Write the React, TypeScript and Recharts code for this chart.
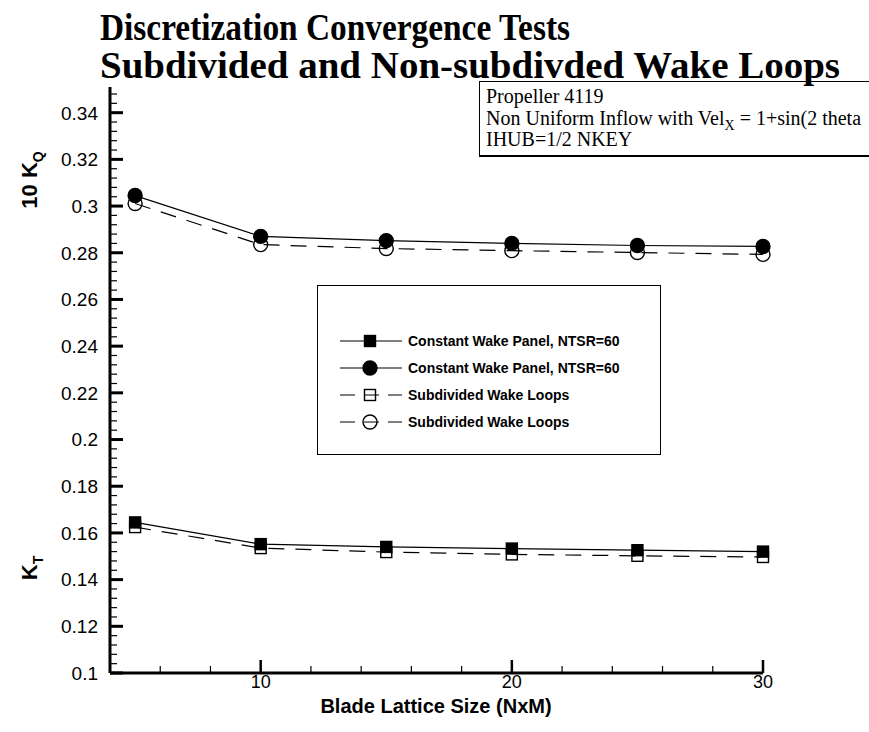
import React from "react";
import { LineChart, Line, XAxis, YAxis, Legend } from "recharts";

// blade lattice size (NxM)
const latticeSize = [5, 10, 15, 20, 25, 30];

// K_T
const ktConstant = [0.1645, 0.1552, 0.154, 0.1533, 0.1526, 0.152];
const ktSubdivided = [0.1625, 0.1535, 0.1518, 0.1508, 0.1502, 0.1497];

// 10 K_Q
const kqConstant = [0.3045, 0.287, 0.2852, 0.284, 0.2831, 0.2827];
const kqSubdivided = [0.3011, 0.2835, 0.2818, 0.2809, 0.2801, 0.2793];

const xMajorTicks = [10, 20, 30];
const xMinorTicks = [6, 8, 12, 14, 16, 18, 22, 24, 26, 28];
const yMajorTicks = [0.1, 0.12, 0.14, 0.16, 0.18, 0.2, 0.22, 0.24, 0.26, 0.28, 0.3, 0.32, 0.34];
// minor ticks every 0.004 up to the top of the axis
const yMinorTicks = Array.from({ length: 63 }, (_, i) => Number((0.1 + i * 0.004).toFixed(3)));

const legendNames = {
  ktC: "Constant Wake Panel, NTSR=60",
  kqC: "Constant Wake Panel, NTSR=60",
  ktS: "Subdivided Wake Loops",
  kqS: "Subdivided Wake Loops",
};
const legendOrder = ["ktC", "kqC", "ktS", "kqS"];

const rows = latticeSize.map((n, i) => ({
  n,
  ktC: ktConstant[i],
  ktS: ktSubdivided[i],
  kqC: kqConstant[i],
  kqS: kqSubdivided[i],
}));

const SANS = "'Liberation Sans', Arial, Helvetica, sans-serif";
const SERIF = "'Liberation Serif', 'Times New Roman', serif";
const DASH = "16 11";

const xTicks = [...xMinorTicks, ...xMajorTicks].sort((a, b) => a - b);
const yTicks = yMinorTicks;
const isYMajor = (v: number) => yMajorTicks.some((m) => Math.abs(m - v) < 1e-6);

function XTick(props: any) {
  const { x, y, payload } = props;
  const major = xMajorTicks.includes(payload.value);
  return (
    <g>
      <line x1={x} x2={x} y1={y} y2={y - (major ? 13 : 7)} stroke="#000" strokeWidth={major ? 2.5 : 1.2} />
      {major && (
        <text x={x} y={y + 15} textAnchor="middle" fontFamily={SANS} fontSize={18} fill="#000">
          {payload.value}
        </text>
      )}
    </g>
  );
}

function YTick(props: any) {
  const { x, y, payload } = props;
  const major = isYMajor(payload.value);
  return (
    <g>
      <line x1={x} x2={x + (major ? 13 : 7)} y1={y} y2={y} stroke="#000" strokeWidth={major ? 3 : 1.2} />
      {major && (
        <text x={x - 12} y={y} dy="0.36em" textAnchor="end" fontFamily={SANS} fontSize={19} fill="#000">
          {Number(payload.value.toFixed(2))}
        </text>
      )}
    </g>
  );
}

function marker(kind: string, filled: boolean, cx: number, cy: number, key?: any) {
  if (kind === "circle") {
    return (
      <circle key={key} cx={cx} cy={cy} r={7} fill={filled ? "#000" : "none"} stroke="#000" strokeWidth={1.4} />
    );
  }
  return (
    <rect key={key} x={cx - 5.5} y={cy - 5.5} width={11} height={11} fill={filled ? "#000" : "none"} stroke="#000" strokeWidth={1.4} />
  );
}

const seriesStyle: Record<string, { kind: string; filled: boolean; dashed: boolean }> = {
  ktC: { kind: "square", filled: true, dashed: false },
  kqC: { kind: "circle", filled: true, dashed: false },
  ktS: { kind: "square", filled: false, dashed: true },
  kqS: { kind: "circle", filled: false, dashed: true },
};

function LegendBox(props: any) {
  const payload = props.payload || [];
  return (
    <div
      style={{
        width: "100%",
        height: "100%",
        boxSizing: "border-box",
        border: "1px solid #000",
        background: "#fff",
        paddingTop: 41,
        paddingLeft: 22,
      }}
    >
      {legendOrder.map((key) => {
        const item = payload.find((p: any) => p.dataKey === key);
        const s = seriesStyle[key];
        return (
          <div key={key} style={{ display: "flex", alignItems: "center", height: 27 }}>
            <svg width={64} height={20} style={{ display: "block" }}>
              <line x1={0} x2={62} y1={10} y2={10} stroke="#000" strokeWidth={1.2} strokeDasharray={s.dashed ? "15 9" : undefined} />
              {marker(s.kind, s.filled, 30, 10)}
            </svg>
            <span style={{ marginLeft: 4, fontFamily: SANS, fontWeight: "bold", fontSize: 14, color: "#000" }}>
              {item ? item.value : legendNames[key as keyof typeof legendNames]}
            </span>
          </div>
        );
      })}
    </div>
  );
}

function series(key: string) {
  const s = seriesStyle[key];
  return (
    <Line
      key={key}
      dataKey={key}
      name={legendNames[key as keyof typeof legendNames]}
      type="linear"
      stroke="#000"
      strokeWidth={1.2}
      strokeDasharray={s.dashed ? DASH : undefined}
      dot={(p: any) => marker(s.kind, s.filled, p.cx, p.cy, `${key}-${p.index}`)}
      activeDot={false}
      isAnimationActive={false}
    />
  );
}

export default function App() {
  return (
    <div style={{ position: "absolute", left: 0, top: 0, width: 869, height: 732, overflow: "hidden", background: "#fff" }}>
      <LineChart width={869} height={732} data={rows} margin={{ top: 87, right: 106, bottom: 0, left: 0 }}>
        <XAxis
          dataKey="n"
          type="number"
          domain={[4, 30]}
          ticks={xTicks}
          interval={0}
          height={59}
          tickSize={0}
          tickMargin={0}
          tickLine={false}
          axisLine={{ stroke: "#000", strokeWidth: 3 }}
          tick={XTick}
        />
        <YAxis
          type="number"
          domain={[0.1, 0.351]}
          ticks={yTicks}
          interval={0}
          width={110}
          tickSize={0}
          tickMargin={0}
          tickLine={false}
          axisLine={{ stroke: "#000", strokeWidth: 3 }}
          tick={YTick}
        />
        <Legend
          layout="horizontal"
          verticalAlign="middle"
          align="center"
          content={LegendBox}
          wrapperStyle={{ position: "absolute", left: 317, top: 285, width: 344, height: 170 }}
        />
        {series("ktS")}
        {series("kqS")}
        {series("ktC")}
        {series("kqC")}
      </LineChart>

      <svg width={869} height={732} style={{ position: "absolute", left: 0, top: 0, pointerEvents: "none" }}>
        <text x={100} y={40} fontFamily={SERIF} fontWeight="bold" fontSize={38} fill="#000" textLength={470} lengthAdjust="spacingAndGlyphs">
          Discretization Convergence Tests
        </text>
        <text x={100} y={78} fontFamily={SERIF} fontWeight="bold" fontSize={38} fill="#000" textLength={740} lengthAdjust="spacingAndGlyphs">
          Subdivided and Non-subdivded Wake Loops
        </text>
        <text x={436} y={713} textAnchor="middle" fontFamily={SANS} fontWeight="bold" fontSize={20} fill="#000">
          Blade Lattice Size (NxM)
        </text>
        <text transform="translate(37,180) rotate(-90)" textAnchor="middle" fontFamily={SANS} fontWeight="bold" fontSize={22} fill="#000">
          10 K<tspan fontSize={14} dy={6}>Q</tspan>
        </text>
        <text transform="translate(37,568) rotate(-90)" textAnchor="middle" fontFamily={SANS} fontWeight="bold" fontSize={22} fill="#000">
          K<tspan fontSize={14} dy={6}>T</tspan>
        </text>
      </svg>

      <div
        style={{
          position: "absolute",
          left: 479,
          top: 81,
          width: 430,
          height: 76,
          boxSizing: "border-box",
          borderTop: "1px solid #000",
          borderLeft: "1px solid #000",
          borderBottom: "2px solid #000",
          padding: "4px 0 0 6px",
          fontFamily: SERIF,
          fontSize: 20,
          lineHeight: "21.5px",
          color: "#000",
          whiteSpace: "nowrap",
        }}
      >
        <div>Propeller 4119</div>
        <div>
          Non Uniform Inflow with Vel<sub style={{ fontSize: 14, lineHeight: 0 }}>X</sub> = 1+sin(2 theta
        </div>
        <div>IHUB=1/2 NKEY</div>
      </div>
    </div>
  );
}
